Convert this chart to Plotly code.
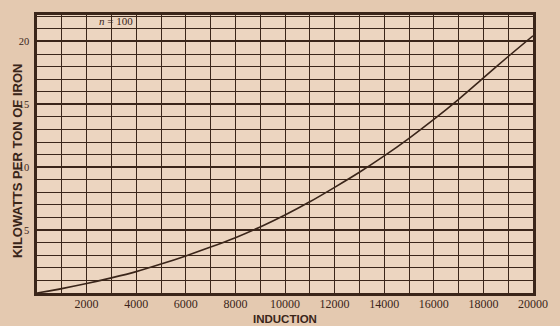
import plotly.graph_objects as go

induction = [0, 1000, 2000, 3000, 4000, 5000, 6000, 7000, 8000, 9000, 10000,
             11000, 12000, 13000, 14000, 15000, 16000, 17000, 18000, 19000, 20000]
kilowatts = [0, 0.35, 0.75, 1.2, 1.7, 2.3, 2.95, 3.65, 4.4, 5.25, 6.2,
             7.25, 8.4, 9.6, 10.9, 12.3, 13.8, 15.4, 17.1, 18.8, 20.45]
x_ticks = [2000, 4000, 6000, 8000, 10000, 12000, 14000, 16000, 18000, 20000]
y_ticks = [5, 10, 15, 20]

ink = "#3a2519"

fig = go.Figure()
fig.add_trace(go.Scatter(x=induction, y=kilowatts, mode="lines",
                         line=dict(color=ink, width=1.6, shape="spline", smoothing=0.8),
                         hoverinfo="skip", showlegend=False))

fig.update_layout(
    width=560, height=326,
    margin=dict(l=37, r=17, t=13, b=33),
    paper_bgcolor="#e4c9b0",
    plot_bgcolor="#ecd5c0",
    font=dict(family="Liberation Serif", color=ink, size=10),
    xaxis=dict(range=[0, 20000], tickvals=x_ticks, ticktext=[str(v) for v in x_ticks],
               showgrid=True, gridcolor=ink, gridwidth=1.4,
               minor=dict(dtick=1000, showgrid=True, gridcolor=ink, gridwidth=1.4, tick0=0),
               showline=True, linecolor=ink, linewidth=2.5, mirror=True,
               zeroline=False, ticks="", ticklabelstandoff=-2,
               tickfont=dict(family="Liberation Serif", size=12, color=ink)),
    yaxis=dict(range=[0, 22.1], tickvals=y_ticks, ticktext=[str(v) for v in y_ticks],
               showgrid=True, gridcolor=ink, gridwidth=2.4,
               minor=dict(dtick=1, tick0=0, showgrid=True, gridcolor=ink, gridwidth=1.3),
               showline=True, linecolor=ink, linewidth=2.5, mirror=True,
               zeroline=False, ticks="", ticklabelstandoff=3,
               tickfont=dict(family="Liberation Serif", size=10.5, color=ink)),
    annotations=[
        dict(text="<i>n</i> = 100", x=3200, y=21.6, xref="x", yref="y", showarrow=False,
             font=dict(family="Liberation Serif", size=11, color=ink)),
        dict(text="<b>KILOWATTS PER TON OF IRON</b>", x=-0.038, y=0.475, xref="paper", yref="paper",
             textangle=-90, showarrow=False, xanchor="center", yanchor="middle",
             font=dict(family="Liberation Sans", size=13, color=ink)),
        dict(text="<b>INDUCTION</b>", x=0.5, y=-0.095, xref="paper", yref="paper",
             showarrow=False, xanchor="center", yanchor="middle",
             font=dict(family="Liberation Sans", size=11.5, color=ink)),
    ],
)

fig.write_html("out.html", config={"displayModeBar": False},
               post_script="document.body.style.margin='0';document.body.style.padding='0';")
